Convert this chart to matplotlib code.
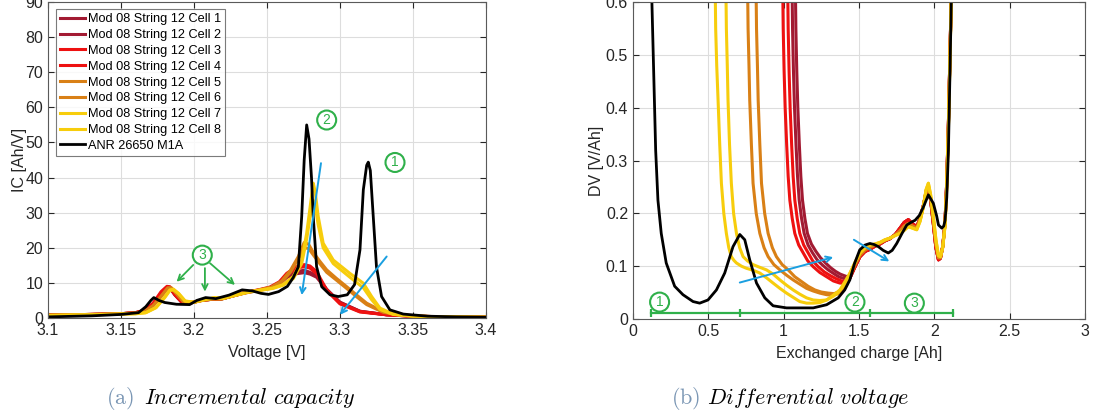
import matplotlib
matplotlib.use("Agg")
import matplotlib.pyplot as plt

plt.rcParams['font.family'] = ['Liberation Sans', 'DejaVu Sans']
plt.rcParams['mathtext.fontset'] = 'cm'

# colours of the cells
c_dred = '#a21a32'
c_red = '#ee1111'
c_orange = '#d98016'
c_yellow = '#f7cd0c'
c_blue = '#1a9fe0'
c_green = '#2fb04a'

labels = ['Mod 08 String 12 Cell %d' % i for i in range(1, 9)] + ['ANR 26650 M1A']
colors = [c_dred, c_dred, c_red, c_red, c_orange, c_orange, c_yellow, c_yellow]

# ---------------- (a) incremental capacity -----------------
v_red = [3.100, 3.130, 3.150, 3.160, 3.166, 3.172, 3.1775, 3.1815, 3.1835, 3.187, 3.1916, 3.198,
         3.205, 3.212, 3.218, 3.226, 3.235, 3.244, 3.252, 3.2585, 3.2635, 3.2703, 3.2755, 3.2795,
         3.284, 3.2909, 3.300, 3.3137, 3.332, 3.350, 3.375, 3.400]
ic_cell1 = [0.8, 1.0, 1.2, 1.5, 2.0, 3.9, 7.0, 8.6, 8.6, 6.6, 4.5, 4.3, 5.0, 5.3, 5.3, 6.2, 7.2, 7.9,
            8.5, 9.8, 11.8, 13.2, 13.6, 13.0, 12.0, 8.2, 4.5, 1.9, 0.9, 0.5, 0.3, 0.2]
ic_cell2 = [0.8, 1.0, 1.2, 1.5, 2.0, 3.8, 6.9, 8.5, 8.5, 6.5, 4.5, 4.3, 5.0, 5.3, 5.3, 6.2, 7.1, 7.8,
            8.4, 9.6, 11.5, 12.6, 12.9, 12.5, 11.6, 8.0, 4.4, 1.9, 0.9, 0.5, 0.3, 0.2]
ic_cell3 = [0.8, 1.0, 1.2, 1.5, 2.2, 4.2, 7.5, 9.0, 8.9, 6.8, 4.6, 4.4, 5.0, 5.4, 5.4, 6.3, 7.3, 8.0,
            8.8, 10.3, 12.7, 14.6, 15.2, 14.8, 13.2, 8.0, 4.2, 1.8, 0.9, 0.5, 0.3, 0.2]
ic_cell4 = [0.8, 1.0, 1.2, 1.5, 2.1, 4.0, 7.2, 8.8, 8.7, 6.6, 4.5, 4.3, 5.0, 5.3, 5.4, 6.2, 7.2, 7.9,
            8.6, 10.0, 12.3, 14.2, 14.6, 14.2, 12.6, 7.8, 4.0, 1.7, 0.9, 0.5, 0.3, 0.2]

v_orange = [3.100, 3.130, 3.150, 3.160, 3.166, 3.172, 3.178, 3.182, 3.1845, 3.188, 3.1925, 3.199,
            3.206, 3.213, 3.219, 3.227, 3.236, 3.245, 3.253, 3.260, 3.266, 3.2715, 3.2755, 3.2785,
            3.282, 3.2865, 3.2909, 3.2975, 3.3046, 3.3115, 3.3183, 3.3297, 3.341, 3.360, 3.380, 3.400]
ic_cell5 = [0.8, 1.0, 1.2, 1.4, 1.8, 3.5, 6.5, 8.6, 8.6, 7.0, 4.8, 4.4, 5.0, 5.4, 5.4, 6.3, 7.3, 8.0,
            8.8, 10.5, 13.5, 17.5, 21.5, 21.0, 18.5, 16.0, 13.7, 11.3, 8.9, 6.5, 4.2, 1.8, 0.85, 0.4,
            0.25, 0.2]
ic_cell6 = [0.8, 1.0, 1.2, 1.4, 1.8, 3.4, 6.3, 8.4, 8.5, 6.9, 4.7, 4.4, 5.0, 5.4, 5.4, 6.3, 7.3, 8.0,
            8.7, 10.2, 13.0, 16.8, 20.0, 19.8, 17.8, 15.3, 13.0, 10.8, 8.4, 6.0, 3.8, 1.6, 0.8, 0.4,
            0.25, 0.2]

v_yellow = [3.100, 3.130, 3.150, 3.160, 3.167, 3.174, 3.180, 3.1835, 3.186, 3.1895, 3.194, 3.200,
            3.207, 3.214, 3.220, 3.228, 3.237, 3.246, 3.254, 3.261, 3.268, 3.2738, 3.2772, 3.2800,
            3.2817, 3.2830, 3.2851, 3.2885, 3.2954, 3.3068, 3.316, 3.3217, 3.3274, 3.3365, 3.350,
            3.375, 3.400]
ic_cell7 = [0.7, 0.9, 1.1, 1.2, 1.5, 3.0, 6.0, 8.0, 8.2, 7.0, 4.8, 4.5, 5.2, 5.8, 5.6, 6.5, 7.4, 8.0,
            8.5, 9.5, 11.8, 16.5, 24.1, 33.0, 38.4, 36.0, 28.9, 21.3, 16.5, 12.7, 9.9, 6.1, 2.8, 1.1,
            0.5, 0.3, 0.2]
ic_cell8 = [0.7, 0.9, 1.1, 1.2, 1.5, 2.9, 5.8, 7.8, 8.0, 6.9, 4.8, 4.5, 5.2, 5.7, 5.6, 6.4, 7.3, 7.9,
            8.4, 9.3, 11.2, 15.5, 22.5, 30.0, 33.5, 32.0, 26.5, 20.0, 15.5, 11.6, 8.6, 5.2, 2.4, 1.0,
            0.5, 0.3, 0.2]

v_anr = [3.100, 3.130, 3.150, 3.162, 3.167, 3.1705, 3.1725, 3.176, 3.180, 3.188, 3.197, 3.202, 3.208,
         3.215, 3.224, 3.233, 3.240, 3.246, 3.251, 3.258, 3.264, 3.268, 3.2715, 3.2738, 3.2755,
         3.2772, 3.2788, 3.2805, 3.2817, 3.284, 3.2875, 3.2932, 3.2988, 3.305, 3.310, 3.3137, 3.316,
         3.3183, 3.3194, 3.3208, 3.3228, 3.325, 3.3285, 3.3342, 3.3434, 3.360, 3.380, 3.400]
ic_anr = [0.3, 0.6, 1.0, 1.5, 3.2, 5.0, 5.8, 5.0, 4.4, 3.9, 3.8, 5.0, 5.8, 5.5, 6.5, 8.0, 7.7, 7.0,
          6.7, 7.5, 9.0, 11.5, 14.6, 28.9, 45.0, 55.0, 51.0, 40.0, 28.9, 14.6, 8.9, 6.6, 6.1, 6.6,
          9.5, 19.4, 36.5, 43.5, 44.4, 42.0, 28.9, 14.6, 6.1, 2.3, 1.1, 0.5, 0.3, 0.2]

ic_curves = [(v_red, ic_cell1), (v_red, ic_cell2), (v_red, ic_cell3), (v_red, ic_cell4),
             (v_orange, ic_cell5), (v_orange, ic_cell6), (v_yellow, ic_cell7), (v_yellow, ic_cell8)]

# annotations of (a): (tail, head)
ic_blue_arrows = [((3.332, 17.5), (3.300, 0.9)), ((3.287, 44.1), (3.2738, 6.5))]
ic_green_arrows = [((3.1995, 15.1), (3.1881, 10.3)), ((3.2075, 14.2), (3.2075, 7.5)),
                   ((3.211, 15.6), (3.2281, 9.4))]
ic_marks = [('1', 3.3377, 44.3), ('2', 3.2909, 56.4), ('3', 3.2057, 17.9)]

# ---------------- (b) differential voltage -----------------
q_tail = [1.44, 1.475, 1.506, 1.54, 1.573, 1.606, 1.639, 1.672, 1.705, 1.74, 1.772, 1.80, 1.827,
          1.855, 1.883, 1.905, 1.927, 1.945, 1.96, 1.975, 1.993, 2.01, 2.027, 2.04, 2.055, 2.07,
          2.082, 2.093, 2.104, 2.115]
dv_tail_red = [0.078, 0.100, 0.118, 0.128, 0.132, 0.138, 0.142, 0.148, 0.152, 0.160, 0.172, 0.183,
               0.188, 0.180, 0.175, 0.190, 0.215, 0.240, 0.248, 0.225, 0.180, 0.135, 0.112, 0.115,
               0.137, 0.18, 0.26, 0.37, 0.51, 0.65]
dv_tail_orange = [0.082, 0.104, 0.121, 0.131, 0.136, 0.140, 0.144, 0.149, 0.153, 0.159, 0.167,
                  0.176, 0.181, 0.176, 0.172, 0.188, 0.214, 0.243, 0.252, 0.230, 0.187, 0.142, 0.116,
                  0.116, 0.136, 0.178, 0.255, 0.365, 0.505, 0.65]
dv_tail_yellow = [0.087, 0.108, 0.125, 0.135, 0.140, 0.142, 0.145, 0.150, 0.153, 0.158, 0.162,
                  0.168, 0.175, 0.172, 0.169, 0.185, 0.213, 0.245, 0.257, 0.235, 0.194, 0.150, 0.120,
                  0.118, 0.135, 0.175, 0.25, 0.36, 0.50, 0.65]

q_cell3 = [0.993, 0.997, 1.003, 1.010, 1.020, 1.030, 1.041, 1.057, 1.074, 1.10, 1.13, 1.16, 1.196,
           1.24, 1.285, 1.33, 1.373, 1.405]
dv_cell3 = [0.65, 0.55, 0.47, 0.40, 0.33, 0.27, 0.225, 0.19, 0.162, 0.140, 0.125, 0.110, 0.099,
            0.088, 0.080, 0.072, 0.068, 0.068]
q_cell4 = [1.026, 1.030, 1.036, 1.043, 1.053, 1.063, 1.074, 1.090, 1.107, 1.133, 1.163, 1.193, 1.229,
           1.270, 1.310, 1.350, 1.385, 1.412]
dv_cell4 = [0.65, 0.55, 0.47, 0.40, 0.33, 0.27, 0.225, 0.19, 0.162, 0.140, 0.125, 0.110, 0.099,
            0.089, 0.082, 0.076, 0.072, 0.071]
q_cell1 = [1.055, 1.059, 1.065, 1.072, 1.082, 1.092, 1.103, 1.119, 1.136, 1.162, 1.192, 1.222, 1.258,
           1.295, 1.332, 1.365, 1.395, 1.418]
dv_cell1 = [0.65, 0.55, 0.47, 0.40, 0.33, 0.27, 0.225, 0.19, 0.162, 0.140, 0.125, 0.112, 0.102,
            0.093, 0.086, 0.080, 0.077, 0.076]
q_cell2 = [1.077, 1.081, 1.087, 1.094, 1.104, 1.114, 1.125, 1.141, 1.158, 1.184, 1.214, 1.244, 1.278,
           1.312, 1.345, 1.375, 1.402, 1.422]
dv_cell2 = [0.65, 0.55, 0.47, 0.40, 0.33, 0.27, 0.225, 0.19, 0.162, 0.142, 0.128, 0.116, 0.106,
            0.097, 0.090, 0.085, 0.082, 0.080]
q_cell5 = [0.760, 0.764, 0.770, 0.775, 0.786, 0.797, 0.818, 0.842, 0.87, 0.897, 0.935, 0.975, 1.019,
           1.063, 1.107, 1.152, 1.196, 1.24, 1.285, 1.329, 1.362, 1.395, 1.42]
dv_cell5 = [0.65, 0.55, 0.48, 0.414, 0.33, 0.257, 0.20, 0.162, 0.135, 0.118, 0.103, 0.093, 0.083,
            0.074, 0.066, 0.058, 0.053, 0.049, 0.046, 0.045, 0.048, 0.055, 0.066]
q_cell6 = [0.816, 0.820, 0.826, 0.831, 0.842, 0.853, 0.874, 0.897, 0.925, 0.952, 0.99, 1.03, 1.074,
           1.118, 1.162, 1.207, 1.25, 1.296, 1.335, 1.373, 1.40, 1.42]
dv_cell6 = [0.65, 0.55, 0.48, 0.414, 0.33, 0.257, 0.20, 0.162, 0.135, 0.118, 0.103, 0.093, 0.080,
            0.071, 0.062, 0.055, 0.051, 0.049, 0.048, 0.052, 0.060, 0.070]
q_cell7 = [0.545, 0.549, 0.556, 0.565, 0.576, 0.587, 0.603, 0.620, 0.636, 0.653, 0.670, 0.687, 0.72,
           0.753, 0.80, 0.842, 0.886, 0.930, 0.975, 1.019, 1.063, 1.107, 1.152, 1.196, 1.24, 1.285,
           1.329, 1.373, 1.405]
dv_cell7 = [0.65, 0.55, 0.48, 0.414, 0.33, 0.257, 0.20, 0.162, 0.135, 0.118, 0.111, 0.106, 0.100,
            0.096, 0.092, 0.087, 0.078, 0.068, 0.058, 0.049, 0.041, 0.033, 0.030, 0.030, 0.031,
            0.036, 0.045, 0.055, 0.070]
q_cell8 = [0.616, 0.620, 0.626, 0.631, 0.641, 0.653, 0.668, 0.687, 0.708, 0.731, 0.76, 0.797, 0.84,
           0.886, 0.93, 0.975, 1.019, 1.063, 1.107, 1.152, 1.196, 1.24, 1.285, 1.329, 1.362, 1.395,
           1.42]
dv_cell8 = [0.65, 0.55, 0.48, 0.414, 0.33, 0.257, 0.20, 0.162, 0.135, 0.118, 0.110, 0.103, 0.098,
            0.093, 0.085, 0.074, 0.064, 0.055, 0.047, 0.040, 0.036, 0.035, 0.036, 0.043, 0.050,
            0.062, 0.075]

q_anr = [0.124, 0.126, 0.137, 0.151, 0.166, 0.188, 0.221, 0.277, 0.332, 0.399, 0.443, 0.498, 0.554,
         0.609, 0.664, 0.709, 0.742, 0.775, 0.820, 0.875, 0.930, 1.019, 1.196, 1.285, 1.362, 1.405,
         1.439, 1.47, 1.505, 1.54, 1.572, 1.60, 1.628, 1.66, 1.694, 1.72, 1.75, 1.785, 1.817, 1.845,
         1.872, 1.90, 1.927, 1.96, 1.993, 2.015, 2.027, 2.049, 2.062, 2.071, 2.082, 2.093, 2.104,
         2.115]
dv_anr = [0.65, 0.60, 0.477, 0.319, 0.225, 0.162, 0.106, 0.062, 0.046, 0.033, 0.030, 0.036, 0.055,
          0.087, 0.137, 0.160, 0.150, 0.112, 0.068, 0.040, 0.025, 0.021, 0.021, 0.027, 0.040, 0.055,
          0.074, 0.105, 0.131, 0.140, 0.143, 0.141, 0.137, 0.130, 0.125, 0.130, 0.143, 0.162, 0.178,
          0.183, 0.187, 0.196, 0.212, 0.235, 0.219, 0.195, 0.178, 0.172, 0.176, 0.187, 0.230, 0.319,
          0.477, 0.65]

dv_curves = [(q_cell1, dv_cell1, dv_tail_red), (q_cell2, dv_cell2, dv_tail_red),
             (q_cell3, dv_cell3, dv_tail_red), (q_cell4, dv_cell4, dv_tail_red),
             (q_cell5, dv_cell5, dv_tail_orange), (q_cell6, dv_cell6, dv_tail_orange),
             (q_cell7, dv_cell7, dv_tail_yellow), (q_cell8, dv_cell8, dv_tail_yellow)]

dv_blue_arrows = [((0.709, 0.069), (1.329, 0.117)), ((1.466, 0.150), (1.701, 0.109))]
region_edges = [0.117, 0.709, 1.573, 2.122]
region_level = 0.0113
dv_marks = [('1', 0.177, 0.032), ('2', 1.473, 0.032), ('3', 1.867, 0.030)]


def style_axes(ax):
    ax.grid(True, color='#dddddd', lw=0.8)
    ax.set_axisbelow(True)
    for s in ax.spines.values():
        s.set_color('#5a5a5a')
        s.set_linewidth(0.8)
    ax.tick_params(direction='in', length=4, labelsize=11.5, colors='#262626',
                   top=True, right=True)


def circled(ax, txt, x, y):
    ax.text(x, y, txt, color=c_green, fontsize=10, ha='center', va='center', zorder=6,
            bbox=dict(boxstyle='circle,pad=0.18', fc='white', ec=c_green, lw=1.5))


fig = plt.figure(figsize=(10.95, 4.2), dpi=100)

ax1 = fig.add_axes([0.0438, 0.243, 0.400, 0.752])
for (v, ic), col, lab in zip(ic_curves, colors, labels):
    ax1.plot(v, ic, color=col, lw=2.2, label=lab)
ax1.plot(v_anr, ic_anr, color='black', lw=2.0, label=labels[-1])
ax1.set_xlim(3.1, 3.4)
ax1.set_ylim(0, 90)
ax1.set_xticks([3.1, 3.15, 3.2, 3.25, 3.3, 3.35, 3.4])
ax1.set_xticklabels(['3.1', '3.15', '3.2', '3.25', '3.3', '3.35', '3.4'])
ax1.set_yticks(range(0, 91, 10))
ax1.set_xlabel('Voltage [V]', fontsize=11.5, color='#262626', labelpad=5)
ax1.set_ylabel('IC [Ah/V]', fontsize=11.5, color='#262626', labelpad=-1)
style_axes(ax1)
leg = ax1.legend(loc='upper left', bbox_to_anchor=(0.012, 0.985), fontsize=9.2, frameon=True,
                 fancybox=False, edgecolor='#5a5a5a', handlelength=2.0, handletextpad=0.2,
                 labelspacing=0.3, borderpad=0.3, borderaxespad=0.2)
leg.get_frame().set_linewidth(0.8)
for (p0, p1) in ic_blue_arrows:
    ax1.annotate('', xy=p1, xytext=p0, zorder=5,
                 arrowprops=dict(arrowstyle='->', color=c_blue, lw=1.4, shrinkA=0, shrinkB=0))
for (p0, p1) in ic_green_arrows:
    ax1.annotate('', xy=p1, xytext=p0, zorder=5,
                 arrowprops=dict(arrowstyle='->', color=c_green, lw=1.3, shrinkA=0, shrinkB=0))
for t, x, y in ic_marks:
    circled(ax1, t, x, y)

ax2 = fig.add_axes([0.578, 0.2405, 0.413, 0.7545])
for (q, dv, tail), col in zip(dv_curves, colors):
    ax2.plot(list(q) + q_tail, list(dv) + tail, color=col, lw=2.2)
ax2.plot(q_anr, dv_anr, color='black', lw=2.0)
ax2.set_xlim(0, 3)
ax2.set_ylim(0, 0.6)
ax2.set_xticks([0, 0.5, 1, 1.5, 2, 2.5, 3])
ax2.set_xticklabels(['0', '0.5', '1', '1.5', '2', '2.5', '3'])
ax2.set_yticks([0, 0.1, 0.2, 0.3, 0.4, 0.5, 0.6])
ax2.set_yticklabels(['0', '0.1', '0.2', '0.3', '0.4', '0.5', '0.6'])
ax2.set_xlabel('Exchanged charge [Ah]', fontsize=11.5, color='#262626', labelpad=5)
ax2.set_ylabel('DV [V/Ah]', fontsize=11.5, color='#262626', labelpad=1)
style_axes(ax2)
for (p0, p1) in dv_blue_arrows:
    ax2.annotate('', xy=p1, xytext=p0, zorder=5,
                 arrowprops=dict(arrowstyle='->', color=c_blue, lw=1.4, shrinkA=0, shrinkB=0))
ax2.plot(region_edges, [region_level] * len(region_edges), color=c_green, lw=1.6, zorder=5)
ax2.vlines(region_edges, region_level - 0.007, region_level + 0.007, color=c_green, lw=1.6, zorder=5)
for t, x, y in dv_marks:
    circled(ax2, t, x, y)

# captions
fig.text(106 / 1095, 0.052, r'$\mathrm{(a)}$', color='#7a96b4', fontsize=16, ha='left', va='center')
fig.text(144 / 1095, 0.052, r'$\mathit{Incremental\ capacity}$', fontsize=16, ha='left', va='center')
fig.text(671 / 1095, 0.052, r'$\mathrm{(b)}$', color='#7a96b4', fontsize=16, ha='left', va='center')
fig.text(707 / 1095, 0.052, r'$\mathit{Differential\ voltage}$', fontsize=16, ha='left', va='center')

fig.savefig('out.png', dpi=100)
